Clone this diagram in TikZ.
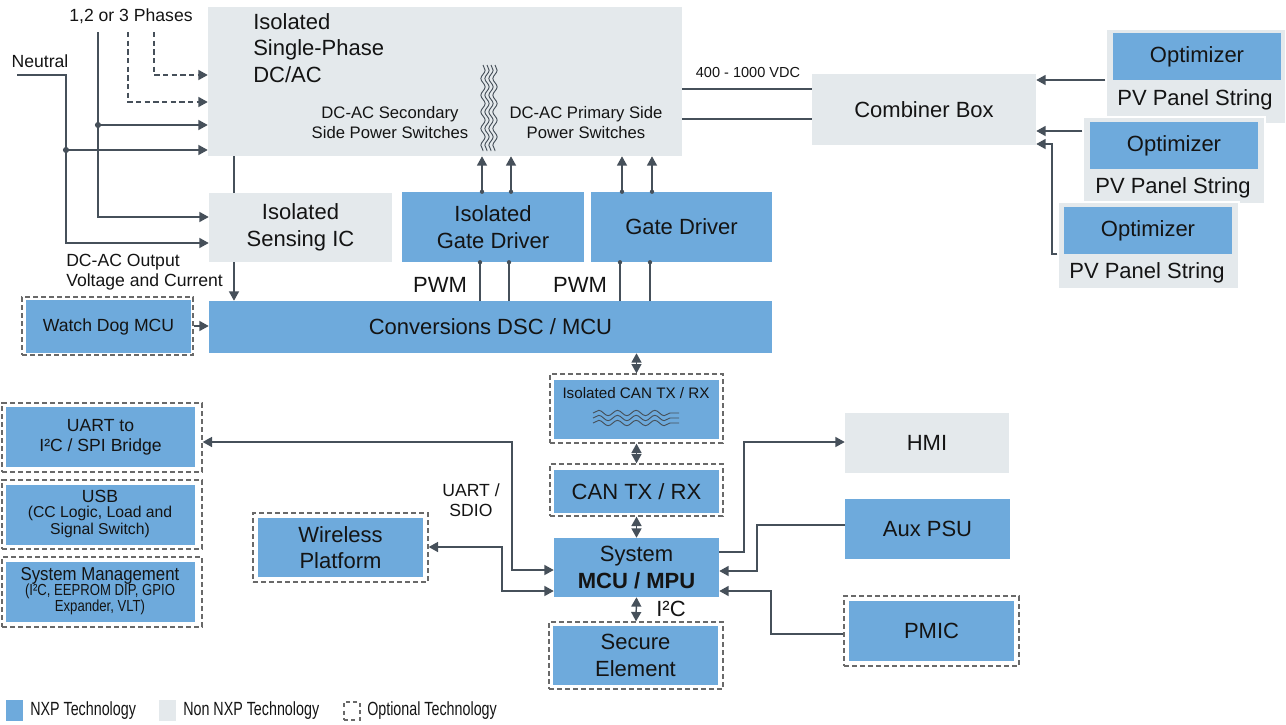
\documentclass[tikz,border=0pt]{standalone}
\usepackage{fontspec}
\usepackage{graphicx}
\setmainfont{Liberation Sans}
\usetikzlibrary{fit,arrows.meta,decorations.pathmorphing}
\definecolor{nxp}{RGB}{110,170,220}
\definecolor{nonnxp}{RGB}{228,233,236}
\definecolor{wirec}{RGB}{70,80,90}
\definecolor{dashc}{RGB}{105,105,105}
\definecolor{txt}{RGB}{20,20,20}
\newcommand\fbig{\fontsize{16.5}{20}\selectfont}
\newcommand\fmid{\fontsize{13.2}{15}\selectfont}
\newcommand\fsm{\fontsize{12.5}{15}\selectfont}
\newcommand\fxs{\fontsize{11.4}{13}\selectfont}
\newcommand\fvdc{\fontsize{10.9}{13}\selectfont}
\newcommand\flg{\fontsize{14.3}{16}\selectfont}
\begin{document}
\begin{tikzpicture}[x=0.75pt,y=-0.75pt,
  every node/.style={text=txt},
  nxpbox/.style={fill=nxp, inner sep=0},
  nonbox/.style={fill=nonnxp, inner sep=0},
  grpbox/.style={fill=nonnxp, draw=white, line width=1pt, inner sep=0},
  optbox/.style={draw=dashc, line width=1pt, dash pattern=on 3.8pt off 2.2pt, inner sep=0},
  wire/.style={draw=wirec, line width=1.1pt},
  arr/.style={wire, -{Triangle[length=7pt,width=7.5pt]}},
  dbl/.style={wire, {Triangle[length=7pt,width=7.5pt]}-{Triangle[length=7pt,width=7.5pt]}},
  lbl/.style={inner sep=0, align=center},
  wavy/.style={draw=wirec, line width=0.7pt, decorate}]
\useasboundingbox (0,0) rectangle (1286,725);

% ---------- top: DC/AC ----------
\node[nonbox, fit={(208,7) (682,156)}] (dcac) {};
\node[lbl, anchor=north west, align=left, font=\fbig] (dcact) at (253,13) {Isolated\\Single-Phase\\DC/AC};
\node[lbl, font=\fsm] (sect) at (390,123) {DC-AC Secondary\\Side Power Switches};
\node[lbl, font=\fsm] (prit) at (586,123) {DC-AC Primary Side\\Power Switches};
\foreach \xx in {483,487,491,495}
  \draw[wavy, decoration={snake, amplitude=1.6pt, segment length=12.5pt}] (\xx,65) -- (\xx,151);
\node[lbl, font=\fvdc] (vdc) at (748,72) {400 - 1000 VDC};

% ---------- combiner and PV strings ----------
\node[nonbox, fit={(812,74) (1036,145)}] (comb) {};
\node[lbl, font=\fbig] (combt) at (comb.center) {Combiner Box};

\node[grpbox, fit={(1106,29) (1286,124)}] (g1) {};
\node[nxpbox, fit={(1113,33) (1281,80)}] (o1) {};
\node[lbl, font=\fbig] (o1t) at (o1.center) {Optimizer};
\node[lbl, font=\fbig] (p1) at (1195,100) {PV Panel String};

\node[grpbox, fit={(1083,117) (1265,204)}] (g2) {};
\node[nxpbox, fit={(1090,122) (1258,169)}] (o2) {};
\node[lbl, font=\fbig] (o2t) at (o2.center) {Optimizer};
\node[lbl, font=\fbig] (p2) at (1173,188) {PV Panel String};

\node[grpbox, fit={(1058,202) (1239,289)}] (g3) {};
\node[nxpbox, fit={(1064,207) (1232,254)}] (o3) {};
\node[lbl, font=\fbig] (o3t) at (o3.center) {Optimizer};
\node[lbl, font=\fbig] (p3) at (1147,273) {PV Panel String};

\coordinate (y89) at (0,89);
\coordinate (y119) at (0,119);
\draw[wire] (dcac.east |- y89) -- (comb.west |- y89);
\draw[wire] (dcac.east |- y119) -- (comb.west |- y119);

\coordinate (y80) at (0,80);
\coordinate (y131) at (0,131);
\coordinate (g3a) at (1052,254);
\coordinate (g3b) at (1052,144);
\draw[arr] (g1.west |- y80) -- (comb.east |- y80);
\draw[arr] (g2.west |- y131) -- (comb.east |- y131);
\draw[arr] (g3.west |- g3a) -- (g3a) -- (g3b) -- (comb.east |- g3b);

% ---------- inputs on the left ----------
\node[lbl, font=\fmid] (phases) at (131,16) {1,2 or 3 Phases};
\node[lbl, font=\fmid] (neutral) at (40,61) {Neutral};

\node[nonbox, fit={(209,193) (392,262)}] (sense) {};
\node[lbl, font=\fbig] (senset) at (sense.center) {Isolated\\Sensing IC};

\coordinate (pa) at (154,32);
\coordinate (pa2) at (154,75);
\coordinate (pb) at (128,32);
\coordinate (pb2) at (128,102);
\coordinate (pc) at (98,32);
\coordinate (pc2) at (98,217);
\coordinate (jc) at (98,125);
\coordinate (na) at (17,75);
\coordinate (na2) at (66,75);
\coordinate (na3) at (66,243);
\coordinate (jn) at (66,150);

\draw[arr, dash pattern=on 4pt off 2.5pt] (pa) -- (pa2) -- (dcac.west |- pa2);
\draw[arr, dash pattern=on 4pt off 2.5pt] (pb) -- (pb2) -- (dcac.west |- pb2);
\draw[arr] (pc) -- (pc2) -- (sense.west |- pc2);
\draw[arr] (jc) -- (dcac.west |- jc);
\fill[wirec] (jc) circle (2.3pt);
\draw[arr] (na) -- (na2) -- (na3) -- (sense.west |- na3);
\draw[arr] (jn) -- (dcac.west |- jn);
\fill[wirec] (jn) circle (2.3pt);

\node[lbl, anchor=west, align=left, font=\fmid] (outl) at (66,272) {DC-AC Output\\Voltage and Current};

% ---------- gate drivers and conversion ----------
\node[nxpbox, fit={(402,192) (584,262)}] (igd) {};
\node[lbl, font=\fbig] (igdt) at (igd.center) {Isolated\\Gate Driver};
\node[nxpbox, fit={(591,192) (772,262)}] (gd) {};
\node[lbl, font=\fbig] (gdt) at (gd.center) {Gate Driver};
\node[nxpbox, fit={(209,301) (772,353)}] (conv) {};
\node[lbl, font=\fbig] (convt) at (conv.center) {Conversions DSC / MCU};

\coordinate (x234) at (234,0);
\draw[wire] (dcac.south -| x234) -- (sense.north -| x234);
\draw[arr] (sense.south -| x234) -- (conv.north -| x234);

\foreach \xx/\nm in {482/igd,511/igd,622/gd,652/gd}{
  \coordinate (ux) at (\xx,0);
  \draw[arr] (\nm.north -| ux) -- (dcac.south -| ux);
  \fill[wirec] (\nm.north -| ux) circle (1.6pt);
}
\foreach \xx/\nm in {480/igd,509/igd,620/gd,650/gd}{
  \coordinate (lx) at (\xx,0);
  \draw[wire] (conv.north -| lx) -- (\nm.south -| lx);
  \fill[wirec] (\nm.south -| lx) circle (1.6pt);
}
\node[lbl, font=\fbig] (pwm1) at (440,285) {PWM};
\node[lbl, font=\fbig] (pwm2) at (580,285) {PWM};

% watch dog
\node[optbox, fit={(22,297) (193,355)}] (wdog) {};
\node[nxpbox, fit={(26,300) (191,353)}] (wdogi) {};
\node[lbl, font=\fmid] (wdogt) at (wdogi.center) {Watch Dog MCU};
\draw[arr] (wdog.east) -- (conv.west |- wdog.east);

% ---------- CAN chain and MCU ----------
\node[optbox, fit={(550,374) (723,443)}] (isocan) {};
\node[nxpbox, fit={(554,380) (719,439)}] (isocani) {};
\node[lbl, font=\fxs] (isocant) at (636,393) {Isolated CAN TX / RX};
\foreach \yy in {413,418,423}
  \draw[wavy, decoration={snake, amplitude=2pt, segment length=14pt}] (593,\yy) -- (679,\yy);

\node[optbox, fit={(550,464) (723,516)}] (can) {};
\node[nxpbox, fit={(554,470) (719,513)}] (cani) {};
\node[lbl, font=\fbig] (cant) at (cani.center) {CAN TX / RX};

\node[nxpbox, fit={(554,538) (719,597)}] (mcu) {};
\node[lbl, font=\fbig] (mcut) at (mcu.center) {System\\\textbf{MCU / MPU}};

\node[optbox, fit={(549,622) (723,689)}] (sec) {};
\node[nxpbox, fit={(553,626) (718,685)}] (seci) {};
\node[lbl, font=\fbig] (sect2) at (seci.center) {Secure\\Element};
\node[lbl, font=\fbig] (i2c) at (671,609) {I²C};

\draw[dbl] (conv.south -| isocan.north) -- (isocan.north);
\draw[dbl] (isocan.south) -- (can.north);
\draw[dbl] (can.south) -- (mcu.north);
\draw[dbl] (mcu.south) -- (sec.north);

% ---------- left optional blocks ----------
\node[optbox, fit={(2,403) (202,472)}] (bridge) {};
\node[nxpbox, fit={(6,407) (195,467)}] (bridgei) {};
\node[lbl, font=\fmid] (bridget) at (bridgei.center) {UART to\\I²C / SPI Bridge};

\node[optbox, fit={(2,480) (202,549)}] (usb) {};
\node[nxpbox, fit={(6,485) (195,545)}] (usbi) {};
\node[lbl, font=\fmid] (usbt1) at (100,496) {USB};
\node[lbl, font=\fontsize{11.8}{12.5}\selectfont] (usbt2) at (100,522) {(CC Logic, Load and\\Signal Switch)};

\node[optbox, fit={(2,557) (202,627)}] (sysm) {};
\node[nxpbox, fit={(6,562) (195,622)}] (sysmi) {};
\node[lbl, font=\fontsize{14}{15}\selectfont] (sysmt1) at (100,576) {\scalebox{0.9}[1]{System Management}};
\node[lbl, font=\fontsize{12}{10.5}\selectfont] (sysmt2) at (100,599) {\scalebox{0.82}[1]{(I²C, EEPROM DIP, GPIO}\\\scalebox{0.82}[1]{Expander, VLT)}};

\node[optbox, fit={(253,513) (428,582)}] (wless) {};
\node[nxpbox, fit={(258,518) (423,577)}] (wlessi) {};
\node[lbl, font=\fbig] (wlesst) at (wlessi.center) {Wireless\\Platform};
\node[lbl, font=\fmid] (uartl) at (471,500) {UART /\\SDIO};

\coordinate (b1) at (512,442);
\coordinate (b2) at (512,570);
\draw[dbl] (bridge.east |- b1) -- (b1) -- (b2) -- (mcu.west |- b2);
\coordinate (w1) at (502,547);
\coordinate (w2) at (502,591);
\draw[dbl] (wless.east |- w1) -- (w1) -- (w2) -- (mcu.west |- w2);

% ---------- right blocks ----------
\node[nonbox, fit={(845,413) (1009,473)}] (hmi) {};
\node[lbl, font=\fbig] (hmit) at (hmi.center) {HMI};
\node[nxpbox, fit={(845,499) (1010,559)}] (aux) {};
\node[lbl, font=\fbig] (auxt) at (aux.center) {Aux PSU};
\node[optbox, fit={(844,596) (1019,666)}] (pmic) {};
\node[nxpbox, fit={(849,601) (1014,661)}] (pmici) {};
\node[lbl, font=\fbig] (pmict) at (pmici.center) {PMIC};

\coordinate (h1) at (744,552);
\coordinate (h2) at (744,442);
\draw[arr] (mcu.east |- h1) -- (h1) -- (h2) -- (hmi.west |- h2);
\coordinate (a1) at (757,525);
\coordinate (a2) at (757,571);
\draw[arr] (aux.west |- a1) -- (a1) -- (a2) -- (mcu.east |- a2);
\coordinate (m1) at (771,634);
\coordinate (m2) at (771,591);
\draw[arr] (pmic.west |- m1) -- (m1) -- (m2) -- (mcu.east |- m2);

% ---------- legend ----------
\node[nxpbox, fit={(6,700) (23,721)}] (lg1) {};
\node[lbl, anchor=west, font=\flg] (lg1t) at (30,711) {\scalebox{0.75}[1]{NXP Technology}};
\node[nonbox, fit={(159,700) (176,721)}] (lg2) {};
\node[lbl, anchor=west, font=\flg] (lg2t) at (183,711) {\scalebox{0.75}[1]{Non NXP Technology}};
\node[optbox, line width=0.8pt, dash pattern=on 3pt off 2.5pt, fit={(344,702) (360,720)}] (lg3) {};
\node[lbl, anchor=west, font=\flg] (lg3t) at (367,711) {\scalebox{0.75}[1]{Optional Technology}};
\end{tikzpicture}
\end{document}
